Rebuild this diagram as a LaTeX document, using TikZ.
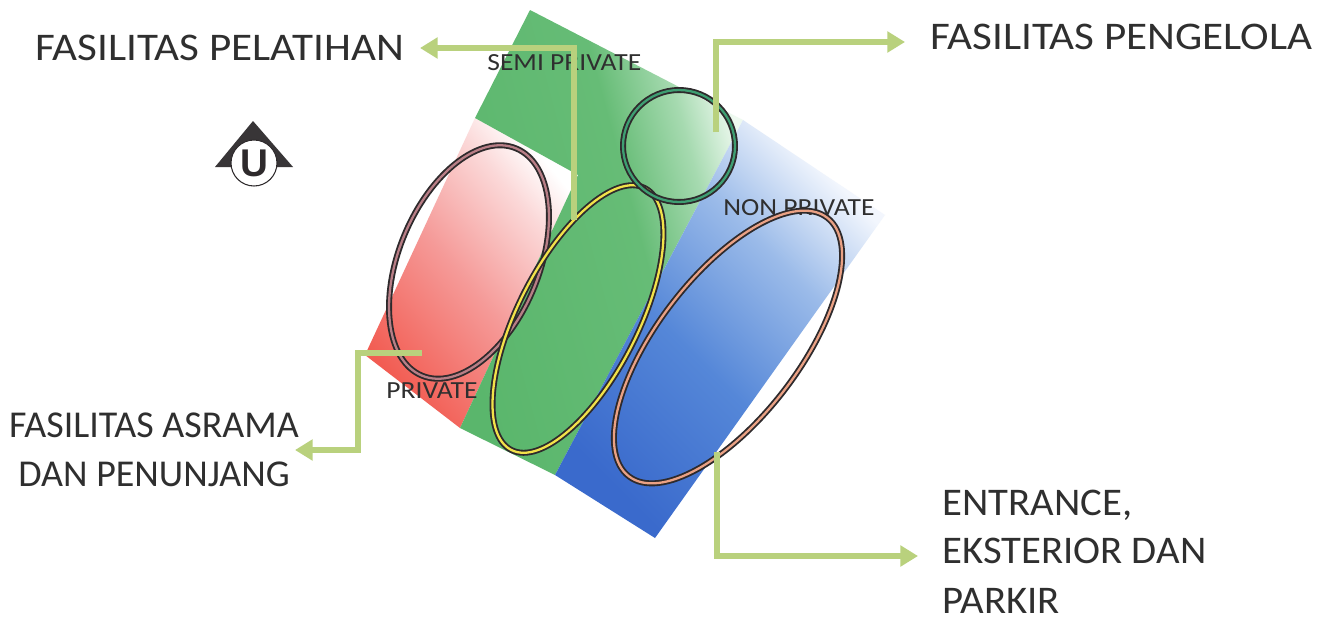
\documentclass[tikz,border=0pt]{standalone}
\usepackage{fontspec}
\setmainfont{Carlito}
\newfontfamily\topfont[FakeStretch=1.10]{Carlito}
\newfontfamily\entfont[FakeStretch=1.04]{Carlito}
\newfontfamily\zonefont[FakeStretch=1.12]{Carlito}
\newfontfamily\ufont{Liberation Sans}
\usetikzlibrary{arrows.meta,shapes.geometric}
\definecolor{txt}{HTML}{2F2F2F}
\definecolor{arr}{HTML}{B9D17D}
\definecolor{dk}{HTML}{2E2A2C}
\definecolor{rA}{HTML}{F25C52}
\definecolor{rB}{HTML}{F59A98}
\definecolor{rC}{HTML}{FBD8D8}
\definecolor{gA}{HTML}{5AB66C}
\definecolor{gB}{HTML}{66BC76}
\definecolor{gC}{HTML}{A6DAB0}
\definecolor{gD}{HTML}{EEF9F0}
\definecolor{bA}{HTML}{3A6ACC}
\definecolor{bB}{HTML}{5587D8}
\definecolor{bC}{HTML}{9BBBE9}
\definecolor{bD}{HTML}{F2F6FD}
\definecolor{ringR}{HTML}{B87E86}
\definecolor{ringG}{HTML}{F2E24A}
\definecolor{ringC}{HTML}{3E9E72}
\definecolor{ringB}{HTML}{EAA184}
\pgfdeclarehorizontalshading{redfade}{100bp}{color(0bp)=(rA); color(25bp)=(rA); color(48bp)=(rB); color(66bp)=(rC); color(75bp)=(white); color(100bp)=(white)}
\pgfdeclarehorizontalshading{greenfade}{100bp}{color(0bp)=(gA); color(25bp)=(gA); color(56bp)=(gB); color(67bp)=(gC); color(75bp)=(gD); color(100bp)=(gD)}
\pgfdeclarehorizontalshading{bluefade}{100bp}{color(0bp)=(bA); color(25bp)=(bA); color(45bp)=(bB); color(62bp)=(bC); color(75bp)=(bD); color(100bp)=(white)}
\begin{document}
\begin{tikzpicture}[x=0.02cm,y=0.02cm,
  bigtxt/.style={text=txt, font=\fontsize{21.6}{27.2}\selectfont, inner sep=0pt},
  toptxt/.style={text=txt, font=\topfont\fontsize{22.3}{27.2}\selectfont, inner sep=0pt},
  enttxt/.style={text=txt, font=\entfont\fontsize{22.3}{27.2}\selectfont, inner sep=0pt},
  smalltxt/.style={text=txt, font=\zonefont\fontsize{14}{15}\selectfont, inner sep=0pt},
  conn/.style={draw=arr, line width=3.8pt, line join=miter, -{Triangle[width=11.5pt,length=10pt]}},
  ring/.style={ellipse, draw=dk, line width=1.05pt, double=#1, double distance=1.3pt, inner sep=0pt}]
\useasboundingbox (0,0) rectangle (1317,-622);
\fill[white] (0,0) rectangle (1317,-622);
% zones
\path[shading=redfade, shading angle=40] (475,-118) -- (578,-175) -- (460,-428) -- (365,-355) -- cycle;
\path[shading=greenfade, shading angle=15] (530,-10) -- (743,-120) -- (555,-475) -- (460,-428) -- (578,-175) -- (475,-118) -- cycle;
\path[shading=bluefade, shading angle=45] (743,-120) -- (885,-215) -- (655,-538) -- (555,-475) -- cycle;
% zone labels
\node[smalltxt, anchor=base west] (semi) at (487,-70) {SEMI PRIVATE};
\node[smalltxt, anchor=base west] (nonp) at (723,-215) {NON PRIVATE};
\node[smalltxt, anchor=base west] (priv) at (386,-398) {PRIVATE};
% rings
\node[ring=ringR, minimum width=2.8cm, minimum height=4.92cm, rotate=-22.5] (asr) at (469,-262) {};
\node[ring=ringG, minimum width=2.4cm, minimum height=5.88cm, rotate=-27] (pelz) at (578,-319) {};
\node[ring=ringC, circle, minimum size=2.24cm] (peng) at (679,-146) {};
\node[ring=ringB, minimum width=2.84cm, minimum height=6.52cm, rotate=-37.5] (entz) at (728,-347) {};
% labels
\node[toptxt, anchor=base west] (lpel) at (35,-60) {FASILITAS PELATIHAN};
\node[toptxt, anchor=base west] (lpeng) at (930,-49) {FASILITAS PENGELOLA};
\node[bigtxt, anchor=base] (lasr1) at (154,-437) {FASILITAS ASRAMA};
\node[bigtxt, anchor=base] (lasr2) at (154,-486) {DAN PENUNJANG};
\node[enttxt, anchor=base west] (lent1) at (942,-515) {ENTRANCE,};
\node[enttxt, anchor=base west] (lent2) at (942,-563) {EKSTERIOR DAN};
\node[enttxt, anchor=base west] (lent3) at (942,-613) {PARKIR};
% north sign
\fill[dk!95] (253,-121) -- (215,-167) -- (293,-167) -- cycle;
\node[circle, fill=white, draw=dk, line width=0.6pt, minimum size=0.92cm, inner sep=0pt, text=dk, font=\ufont\bfseries\fontsize{22}{22}\selectfont] (north) at (254,-163) {U};
% connectors
\coordinate (pS) at (574,-220); \coordinate (pT) at (420,-48);
\coordinate (gS) at (716,-132); \coordinate (gT) at (905,-42);
\coordinate (aS) at (422,-353); \coordinate (aB) at (358,-450); \coordinate (aT) at (295,-450);
\coordinate (eS) at (717,-452); \coordinate (eT) at (918,-556);
\draw[conn] (pS) |- (pT);
\draw[conn] (gS) |- (gT);
\draw[conn] (aS) -| (aB) -- (aT);
\draw[conn] (eS) |- (eT);
\end{tikzpicture}
\end{document}
